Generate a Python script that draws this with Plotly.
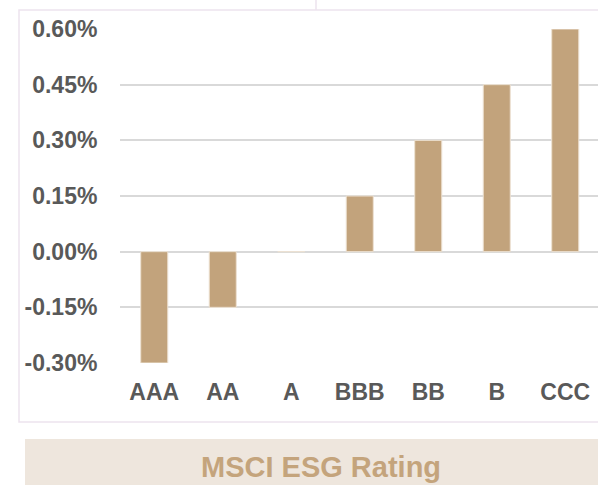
import plotly.graph_objects as go

ratings = ["AAA", "AA", "A", "BBB", "BB", "B", "CCC"]
values = [-0.30, -0.15, 0.0, 0.15, 0.30, 0.45, 0.60]
y_ticks = [-0.30, -0.15, 0.0, 0.15, 0.30, 0.45, 0.60]
y_tick_labels = ["-0.30%", "-0.15%", "0.00%", "0.15%", "0.30%", "0.45%", "0.60%"]
title_text = "MSCI ESG Rating"

W, H = 598, 485
ML, MR, MT, MB = 120, 0, 29, 122
pw, ph = W - ML - MR, H - MT - MB

def px_x(p):
    return (p - ML) / pw

def px_y(p):
    return (H - MB - p) / ph

font_family = "Liberation Sans, Arial, sans-serif"

fig = go.Figure(go.Bar(
    x=ratings, y=values,
    marker=dict(color="#C2A37C", line=dict(color="#EDE2D3", width=1)),
))

fig.update_layout(
    width=W, height=H,
    margin=dict(l=ML, r=MR, t=MT, b=MB),
    paper_bgcolor="white", plot_bgcolor="white",
    bargap=0.605,
    showlegend=False,
    font=dict(family=font_family),
)
fig.update_xaxes(
    type="category",
    range=[-0.5, 6.478],
    tickfont=dict(family=font_family, size=23, color="#595959", weight="bold"),
    ticks="outside", ticklen=8, tickcolor="rgba(0,0,0,0)",
    showgrid=False, showline=False, zeroline=False,
)
fig.update_yaxes(
    range=[-0.30, 0.60],
    tickvals=y_ticks, ticktext=y_tick_labels,
    tickfont=dict(family=font_family, size=23, color="#595959", weight="bold"),
    ticks="outside", ticklen=17, tickcolor="rgba(0,0,0,0)",
    showgrid=True, gridcolor="#D9D9D9", gridwidth=1.5,
    zeroline=False, showline=False,
)

shapes = [
    dict(type="rect", xref="paper", yref="paper",
         x0=px_x(19), x1=px_x(640), y0=px_y(422), y1=px_y(10),
         line=dict(color="#EDE3EE", width=1.5), fillcolor="rgba(0,0,0,0)", layer="below"),
    dict(type="line", xref="paper", yref="paper",
         x0=px_x(316), x1=px_x(316), y0=px_y(10), y1=px_y(-5),
         line=dict(color="#EDE3EE", width=1.5)),
    dict(type="rect", xref="paper", yref="paper",
         x0=px_x(25), x1=px_x(617), y0=px_y(500), y1=px_y(439),
         line=dict(width=0), fillcolor="#EEE6DD"),
]
fig.update_layout(shapes=shapes)

fig.add_annotation(
    text=title_text, xref="paper", yref="paper",
    x=px_x(321), y=px_y(467), showarrow=False,
    xanchor="center", yanchor="middle",
    font=dict(family=font_family, size=29, color="#C4A47C", weight="bold"),
)

fig.write_html("out.html",
               config={"displayModeBar": False},
               post_script="document.body.style.margin='0';document.body.style.overflow='hidden';")
